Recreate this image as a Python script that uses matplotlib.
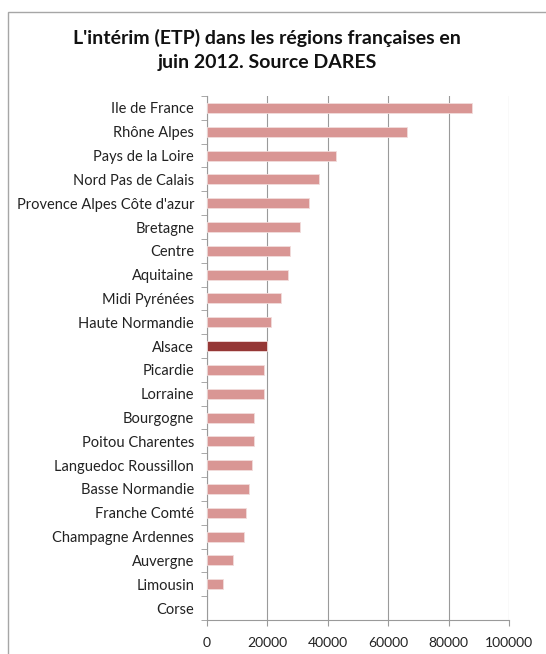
import numpy as np
import matplotlib.pyplot as plt
from matplotlib.patches import Rectangle

regions = [
    "Ile de France", "Rhône Alpes", "Pays de la Loire", "Nord Pas de Calais",
    "Provence Alpes Côte d'azur", "Bretagne", "Centre", "Aquitaine",
    "Midi Pyrénées", "Haute Normandie", "Alsace", "Picardie", "Lorraine",
    "Bourgogne", "Poitou Charentes", "Languedoc Roussillon",
    "Basse Normandie", "Franche Comté", "Champagne Ardennes", "Auvergne",
    "Limousin", "Corse",
]
etp = [
    87800, 66300, 42700, 37200, 33800, 30700, 27600, 27000,
    24400, 21200, 20000, 19000, 18800, 15700, 15700, 14900,
    13900, 13100, 12200, 8800, 5400, 0,
]
highlight = "Alsace"
xticks = [0, 20000, 40000, 60000, 80000, 100000]

plt.rcParams["font.family"] = ["Lato", "DejaVu Sans"]

fig = plt.figure(figsize=(5.46, 6.54), dpi=100)
# chart-area frame
fig.patches.append(Rectangle((7.5 / 546, -0.01), 1.0, (654 - 11.5) / 654 + 0.01,
                             transform=fig.transFigure, fill=False,
                             edgecolor="#a6a6a6", linewidth=1.0))

ax = fig.add_axes([206.7 / 546, 1 - 620 / 654, (509.3 - 206.7) / 546, (620 - 96) / 654])

y = np.arange(len(regions))
colors = ["#953735" if r == highlight else "#d99694" for r in regions]
widths = [0.6 if v > 0 else 0 for v in etp]
ax.barh(y, etp, height=0.42, color=colors, edgecolor="#f2dcdb",
        linewidth=widths, zorder=3)

ax.set_ylim(len(regions) - 0.5, -0.5)
ax.set_xlim(0, 100000)
ax.set_yticks(y)
ax.set_yticklabels(regions, fontsize=10.5, color="#222222")
ax.set_yticks(np.arange(len(regions) + 1) - 0.5, minor=True)
ax.tick_params(axis="y", which="major", length=0, pad=9)
ax.tick_params(axis="y", which="minor", length=4, color="#9a9a9a", direction="out")

ax.set_xticks(xticks)
ax.set_xticklabels([str(t) for t in xticks], fontsize=10, color="#222222")
ax.tick_params(axis="x", length=4, color="#9a9a9a", direction="out", pad=8)
ax.grid(axis="x", color="#9a9a9a", linewidth=0.8, zorder=0)

for side in ("top", "right"):
    ax.spines[side].set_visible(False)
for side in ("left", "bottom"):
    ax.spines[side].set_color("#9a9a9a")
    ax.spines[side].set_linewidth(0.8)

fig.text(267 / 546, 1 - 50 / 654,
         "L'intérim (ETP) dans les régions françaises en\njuin 2012. Source DARES",
         ha="center", va="center", fontsize=14, fontweight="bold",
         color="#111111", linespacing=1.45)

fig.savefig("out.png", dpi=100)
